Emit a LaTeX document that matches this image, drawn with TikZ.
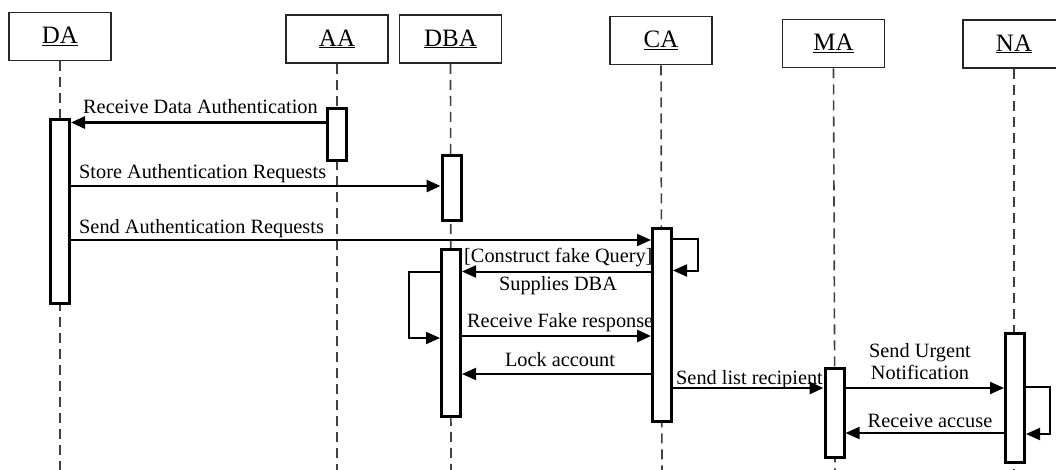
\documentclass[tikz,border=0pt]{standalone}
\usepackage{fontspec}
\setmainfont{Liberation Serif}
\usetikzlibrary{arrows.meta}
\begin{document}
\begin{tikzpicture}[x=1pt,y=-1pt,
  head/.style={draw=black!85, line width=1.7pt, minimum width=102pt, minimum height=48pt, inner sep=0pt, font=\fontsize{25}{28}\selectfont},
  life/.style={draw=black!75, line width=1.6pt, dash pattern=on 10pt off 6pt},
  act/.style={draw=black, line width=3pt, fill=white, minimum width=19pt, inner sep=0pt},
  msg/.style={line width=2.8pt, -{Triangle[length=14pt,width=12pt]}},
  msgthin/.style={line width=2pt, -{Triangle[length=14pt,width=12pt]}},
  lbl/.style={font=\fontsize{20.3}{22}\selectfont, inner sep=0pt}
]
\clip (0,0) rectangle (1056,469);
\fill[white] (0,0) rectangle (1056,469);

% header boxes
\node[head] (da)  at (60,36.5)   {\underline{DA}};
\node[head] (aa)  at (337,39)    {\underline{AA}};
\node[head] (dba) at (450.5,39)  {\underline{DBA}};
\node[head] (ca)  at (661,40.5)  {\underline{CA}};
\node[head] (ma)  at (833.5,43.5){\underline{MA}};
\node[head] (na)  at (1014,44)   {\underline{NA}};

% lifeline ends
\coordinate (daend)  at (60,470);
\coordinate (aaend)  at (337,470);
\coordinate (dbaend) at (451,470);
\coordinate (caend)  at (662,470);
\coordinate (maend)  at (835,470);
\coordinate (naend)  at (1014,470);
\draw[life] (da.south)  -- (daend);
\draw[life] (aa.south)  -- (aaend);
\draw[life] (dba.south) -- (dbaend);
\draw[life] (ca.south)  -- (caend);
\draw[life] (ma.south)  -- (maend);
\draw[life] (na.south)  -- (naend);

% activations
\node[act, minimum height=184pt] (daact)   at (60,211)    {};
\node[act, minimum height=52pt]  (aaact)   at (336.5,134) {};
\node[act, minimum height=65pt]  (dbaact1) at (451.5,188) {};
\node[act, minimum height=193pt] (caact)   at (662,324.5) {};
\node[act, minimum height=167pt] (dbaact2) at (451,333)   {};
\node[act, minimum height=89pt]  (maact)   at (834.5,412.5) {};
\node[act, minimum height=129pt] (naact)   at (1015,397.5) {};

% message levels
\coordinate (m1) at (0,122.5);
\coordinate (m2) at (0,186);
\coordinate (m3) at (0,240);
\coordinate (m4) at (0,271.5);
\coordinate (m5) at (0,336);
\coordinate (m6) at (0,374);
\coordinate (m7) at (0,388);
\coordinate (m8) at (0,433);

% Receive Data Authentication
\draw[msg] (aaact.west |- m1) -- (daact.east |- m1);
\node[lbl, anchor=base west] (l1) at (83,113) {Receive Data Authentication};

% Store Authentication Requests
\draw[msg] (daact.east |- m2) -- (dbaact1.west |- m2);
\node[lbl, anchor=base west] (l2) at (79,178) {Store Authentication Requests};

% Send Authentication Requests
\draw[msgthin] (daact.east |- m3) -- (caact.west |- m3);
\node[lbl, anchor=base west] (l3) at (79,233) {Send Authentication Requests};

% CA self loop
\coordinate (cal1) at (698,239);
\coordinate (cal2) at (698,270.5);
\draw[msgthin] (caact.east |- cal1) -- (cal1) -- (cal2) -- (caact.east |- cal2);

% Construct fake query / Supplies DBA
\node[lbl, anchor=base west] (l4) at (464,262) {[Construct fake Query]};
\draw[msgthin] (caact.west |- m4) -- (dbaact2.east |- m4);
\node[lbl, anchor=base] (l5) at (558,290) {Supplies DBA};

% DBA self loop
\coordinate (dbl1) at (409,271.5);
\coordinate (dbl2) at (409,338);
\draw[msgthin] (dbaact2.west |- dbl1) -- (dbl1) -- (dbl2) -- (dbaact2.west |- dbl2);

% Receive Fake response
\draw[msg] (dbaact2.east |- m5) -- (caact.west |- m5);
\node[lbl, anchor=base west] (l6) at (467,327) {Receive Fake response};

% Lock account
\draw[msgthin] (caact.west |- m6) -- (dbaact2.east |- m6);
\node[lbl, anchor=base] (l7) at (560,366) {Lock account};

% Send list recipient
\draw[msg] (caact.east |- m7) -- (maact.west |- m7);
\node[lbl, anchor=base west] (l8) at (676,384) {Send list recipient};

% Send Urgent Notification
\draw[msgthin] (maact.east |- m7) -- (naact.west |- m7);
\node[lbl, align=center, anchor=center] (l9) at (920,362) {Send Urgent\\Notification};

% NA self loop
\coordinate (nal1) at (1050,387);
\coordinate (nal2) at (1050,434);
\draw[msgthin] (naact.east |- nal1) -- (nal1) -- (nal2) -- (naact.east |- nal2);

% Receive accuse
\draw[msgthin] (naact.west |- m8) -- (maact.east |- m8);
\node[lbl, anchor=base] (l10) at (930,427) {Receive accuse};
\end{tikzpicture}
\end{document}
